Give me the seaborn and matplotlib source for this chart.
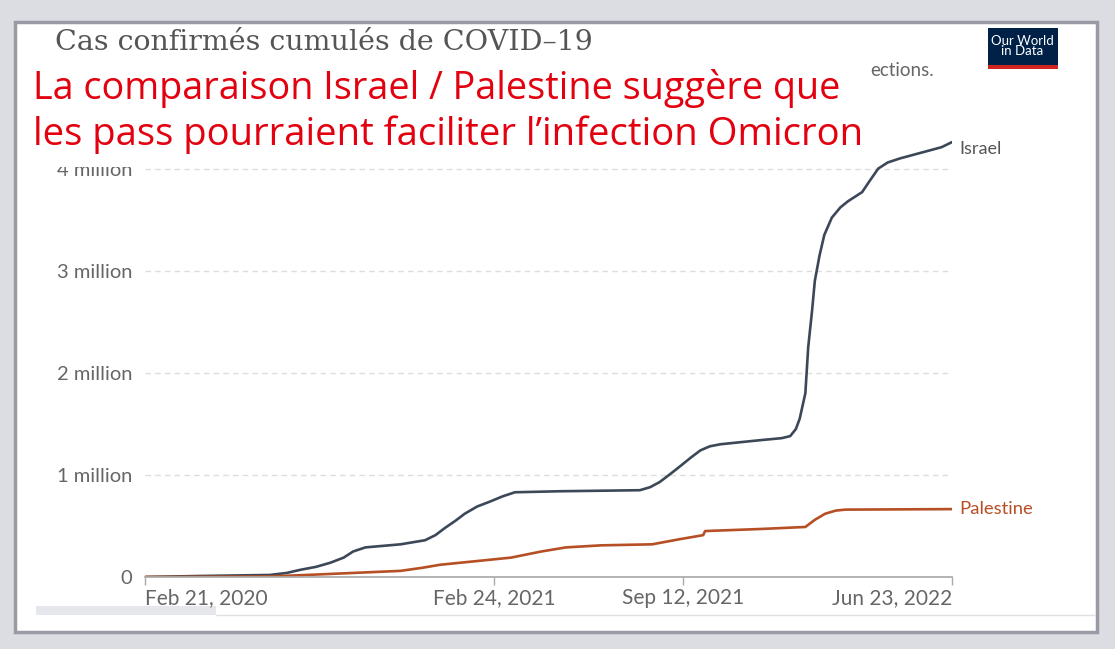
import pandas as pd
import numpy as np
import matplotlib.pyplot as plt
import matplotlib.patches as mpatches
import seaborn as sns

# données (cas cumulés, en millions)
israel_dates = ['2020-02-21', '2020-04-19', '2020-07-02', '2020-07-20', '2020-08-03', '2020-08-20',
                '2020-09-04', '2020-09-18', '2020-09-28', '2020-10-11', '2020-11-17', '2020-12-13',
                '2020-12-24', '2021-01-03', '2021-01-14', '2021-01-24', '2021-02-06', '2021-02-20',
                '2021-03-05', '2021-03-18', '2021-05-05', '2021-07-28', '2021-08-08', '2021-08-18',
                '2021-08-28', '2021-09-08', '2021-09-20', '2021-09-30', '2021-10-10', '2021-10-21',
                '2021-12-02', '2021-12-25', '2022-01-03', '2022-01-09', '2022-01-13', '2022-01-19',
                '2022-01-22', '2022-01-26', '2022-01-29', '2022-02-03', '2022-02-08', '2022-02-16',
                '2022-02-25', '2022-03-05', '2022-03-20', '2022-03-28', '2022-04-06', '2022-04-16',
                '2022-04-29', '2022-05-31', '2022-06-12', '2022-06-23']
israel_cases = [0, 0.01, 0.02, 0.04, 0.07, 0.10,
                0.14, 0.19, 0.25, 0.29, 0.32, 0.36,
                0.41, 0.48, 0.55, 0.62, 0.69, 0.74,
                0.79, 0.83, 0.84, 0.85, 0.88, 0.93,
                1.00, 1.08, 1.17, 1.24, 1.28, 1.30,
                1.34, 1.36, 1.38, 1.45, 1.55, 1.80,
                2.25, 2.60, 2.90, 3.15, 3.35, 3.52,
                3.62, 3.68, 3.77, 3.88, 4.00, 4.06,
                4.10, 4.18, 4.21, 4.26]

palestine_dates = ['2020-02-21', '2020-07-02', '2020-09-04', '2020-11-17', '2020-12-10', '2020-12-29',
                   '2021-02-10', '2021-03-14', '2021-04-15', '2021-05-11', '2021-06-17', '2021-08-10',
                   '2021-09-08', '2021-10-03', '2021-10-05', '2021-12-02', '2022-01-19', '2022-01-29',
                   '2022-02-09', '2022-02-20', '2022-03-02', '2022-06-23']
palestine_cases = [0, 0.005, 0.03, 0.06, 0.09, 0.12,
                   0.16, 0.19, 0.25, 0.29, 0.31, 0.32,
                   0.37, 0.41, 0.45, 0.47, 0.49, 0.56,
                   0.62, 0.65, 0.66, 0.665]

tick_dates = ['2020-02-21', '2021-02-24', '2021-09-12', '2022-06-23']
tick_labels = ['Feb 21, 2020', 'Feb 24, 2021', 'Sep 12, 2021', 'Jun 23, 2022']
y_ticks = [0, 1, 2, 3, 4]
y_labels = ['0', '1 million', '2 million', '3 million', '4 million']

colors = {'Israel': '#3c4858', 'Palestine': '#b64f24'}

df = pd.concat([
    pd.DataFrame({'date': pd.to_datetime(israel_dates), 'cases': israel_cases, 'pays': 'Israel'}),
    pd.DataFrame({'date': pd.to_datetime(palestine_dates), 'cases': palestine_cases, 'pays': 'Palestine'}),
])

sns.set_theme(style='white')
plt.rcParams['font.family'] = ['Lato', 'DejaVu Sans']

W, H = 1115, 649
fig = plt.figure(figsize=(W / 100, H / 100), dpi=100)
fig.patch.set_facecolor('#dcdde3')

# panneau blanc de la capture
fig.patches.append(mpatches.Rectangle((15 / W, 1 - 632 / H), 1082 / W, 610 / H, transform=fig.transFigure,
                                      facecolor='white', edgecolor='#9a9aa6', lw=2.5, zorder=-1))
# bas de la capture
fig.patches.append(mpatches.Rectangle((36 / W, 1 - 615 / H), 180 / W, 9 / H, transform=fig.transFigure,
                                      facecolor='#e6e7ec', edgecolor='none', zorder=-0.5))
fig.lines.append(plt.Line2D([216 / W, 1095 / W], [1 - 615 / H, 1 - 615 / H], transform=fig.transFigure,
                            color='#e0e0e4', lw=1, zorder=-0.5))

ax = fig.add_axes([145 / W, 1 - 577 / H, 807 / W, 439 / H])
sns.lineplot(data=df, x='date', y='cases', hue='pays', palette=colors, lw=1.9, legend=False, ax=ax)

ax.set_xlim(pd.Timestamp('2020-02-21'), pd.Timestamp('2022-06-23'))
ax.set_ylim(0, 4.3)
ax.set_xlabel('')
ax.set_ylabel('')
ax.set_yticks(y_ticks)
ax.set_yticklabels(y_labels, color='#666666', fontsize=14.5)
ax.tick_params(axis='y', length=0, pad=9)
ax.set_xticks(pd.to_datetime(tick_dates))
ax.set_xticklabels(tick_labels, color='#666666', fontsize=15)
ax.tick_params(axis='x', length=6, width=1, color='#aaaaaa', direction='out', bottom=True, pad=2)
for lab, ha in zip(ax.get_xticklabels(), ['left', 'center', 'center', 'right']):
    lab.set_ha(ha)
for yv in y_ticks[1:]:
    ax.axhline(yv, color='#dddddd', lw=1, ls=(0, (4, 3)), zorder=0)
for s in ['top', 'right', 'left']:
    ax.spines[s].set_visible(False)
ax.spines['bottom'].set_color('#aaaaaa')
ax.set_facecolor('none')

# étiquettes de fin de courbe
ax.annotate('Israel', xy=(1.0, israel_cases[-1]), xycoords=('axes fraction', 'data'),
            xytext=(5, -5), textcoords='offset points', va='center', color='#555555', fontsize=13)
ax.annotate('Palestine', xy=(1.0, palestine_cases[-1]), xycoords=('axes fraction', 'data'),
            xytext=(5, 0), textcoords='offset points', va='center', color='#b64f24', fontsize=13.3)

# titre OWID
fig.text(55 / W, 1 - 42 / H, 'Cas confirmés cumulés de COVID–19', family='DejaVu Serif',
         fontsize=20.5, color='#555555', va='center', ha='left')
fig.text(870 / W, 1 - 70 / H, 'ections.', fontsize=13.5, color='#666666', va='center', ha='left')

# logo
fig.patches.append(mpatches.Rectangle((988 / W, 1 - 69 / H), 70 / W, 41 / H, transform=fig.transFigure,
                                      facecolor='#002147', edgecolor='none', zorder=3))
fig.patches.append(mpatches.Rectangle((988 / W, 1 - 69 / H), 70 / W, 4 / H, transform=fig.transFigure,
                                      facecolor='#ce261e', edgecolor='none', zorder=4))
fig.text(1022 / W, 1 - 46 / H, 'Our World\nin Data', color='white', fontsize=9.5, ha='center',
         va='center', linespacing=0.85, family='Lato', zorder=5)

# encadré rouge
fig.patches.append(mpatches.Rectangle((25 / W, 1 - 167 / H), 845 / W, 110 / H, transform=fig.transFigure,
                                      facecolor='white', edgecolor='none', zorder=2))
fig.text(33 / W, 1 - 88 / H, 'La comparaison Israel / Palestine suggère que', color='#e3000f',
         fontsize=27.2, ha='left', va='center', family=['Open Sans', 'DejaVu Sans'], zorder=6)
fig.text(33 / W, 1 - 135 / H, 'les pass pourraient faciliter l’infection Omicron', color='#e3000f',
         fontsize=27.5, ha='left', va='center', family=['Open Sans', 'DejaVu Sans'], zorder=6)

fig.savefig('out.png', dpi=100, facecolor=fig.get_facecolor())
